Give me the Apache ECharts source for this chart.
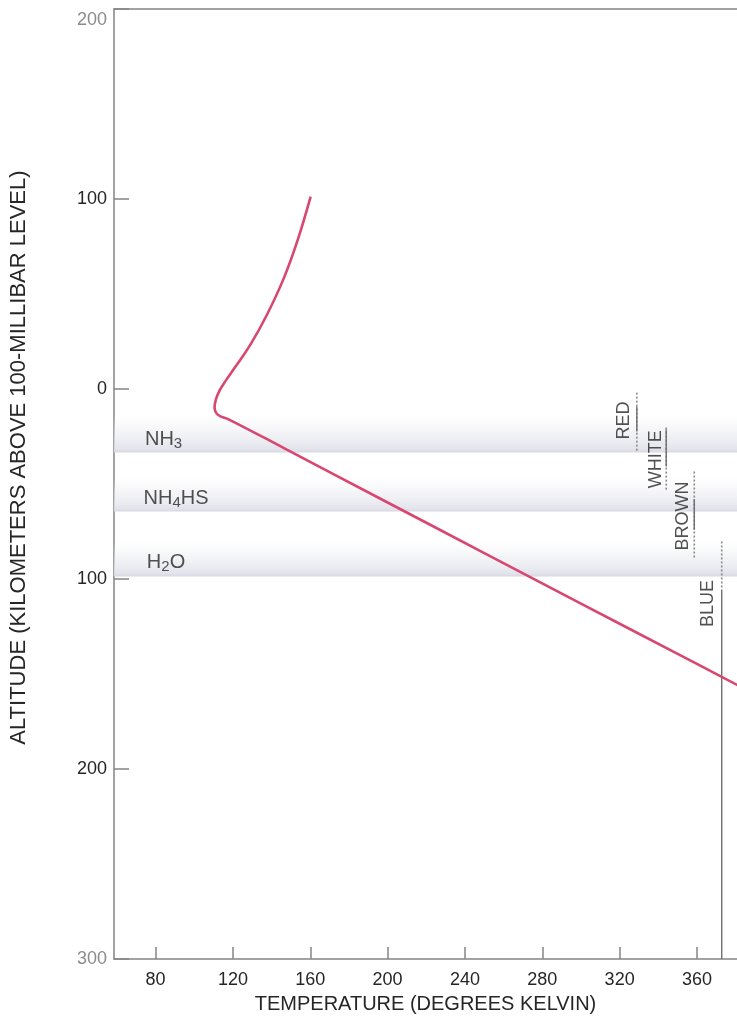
<!DOCTYPE html>
<html>
<head>
<meta charset="utf-8">
<script src="https://cdn.jsdelivr.net/npm/echarts@6/dist/echarts.min.js"></script>
<style>
  html, body { margin: 0; padding: 0; background: #fff; }
  #chart { width: 737px; height: 1019px; }
</style>
</head>
<body>
<div id="chart"></div>
<script>
// temperature profile (K) vs altitude (km above 100 mbar, negative = below)
var profileTemp = [160.2, 153.3, 146.4, 137.8, 129.2, 121, 116.2, 113.2, 111.2, 110.5, 111.5, 113.6, 117.5, 146.4, 200, 250, 300, 350, 386];
var profileAlt  = [101.3, 77.8, 58.5, 39.5, 23.6, 11.3, 4.3, -0.6, -5.4, -9.8, -12.8, -14.4, -15.8, -31.1, -59.7, -86.3, -112.9, -139.4, -158.5];

// cloud layers
var layerNames  = ['NH{s|3}', 'NH{s|4}HS', 'H{s|2}O'];
var layerTop    = [-13.5, -46.6, -80.2];
var layerBottom = [-33.4, -64.5, -98.6];
var layerLabelT = [74.5, 73.8, 75.5];
var layerLabelA = [-26.6, -57.6, -91.3];

// colour markers
var markerNames   = ['RED', 'WHITE', 'BROWN', 'BLUE'];
var markerTemp    = [328.9, 344.1, 358.6, 372.8];
var dottedTop     = [-1.9, -20.3, -43.4, -80.2];
var dottedBottom  = [-33.4, -53.4, -89.7, -105.5];
var solidTop      = [-9.3, -21.3, -58, -105.5];
var solidBottom   = [-22.4, -40.8, -74, -300];
var markerLabelT  = [322.4, 339.0, 352.9, 365.8];
var markerLabelA  = [-16.6, -36.9, -66.8, -112.8];

var xTicks = [80, 120, 160, 200, 240, 280, 320, 360];

var font = 'Liberation Sans, Arial, Helvetica, sans-serif';
var axisGray = '#858585';
var textCol = '#262626';

var myChart = echarts.init(document.getElementById('chart'));

var series = [];

// bands
series.push({
    type: 'line',
    data: [],
    z: 1,
    markArea: {
        silent: true,
        itemStyle: {
            color: new echarts.graphic.LinearGradient(0, 0, 0, 1, [
                { offset: 0, color: 'rgba(238,239,244,0)' },
                { offset: 0.5, color: 'rgba(234,235,241,0.6)' },
                { offset: 0.9, color: 'rgba(225,226,234,0.9)' },
                { offset: 1, color: 'rgba(214,215,226,1)' }
            ])
        },
        data: layerTop.map(function (t, i) {
            return [{ yAxis: t }, { yAxis: layerBottom[i] }];
        })
    }
});

// band labels
series.push({
    type: 'scatter',
    symbolSize: 0,
    z: 3,
    data: layerNames.map(function (n, i) { return { value: [layerLabelT[i], layerLabelA[i]], name: n }; }),
    label: {
        show: true,
        position: 'right',
        distance: 0,
        formatter: function (p) { return p.name; },
        color: textCol,
        fontFamily: font,
        fontSize: 20,
        rich: {
            s: { fontSize: 15, fontFamily: font, color: textCol, padding: [9, 0, 0, 0] }
        }
    }
});

// profile line
series.push({
    type: 'line',
    z: 5,
    smooth: 0.4,
    symbol: 'none',
    lineStyle: { color: '#d8476f', width: 2.6 },
    data: profileTemp.map(function (t, i) { return [t, profileAlt[i]]; })
});

// marker lines
markerNames.forEach(function (n, i) {
    series.push({
        type: 'line',
        symbol: 'none',
        z: 4,
        lineStyle: { color: '#8a8a8a', width: 1.6, type: [2, 2] },
        data: [[markerTemp[i], dottedTop[i]], [markerTemp[i], dottedBottom[i]]]
    });
    series.push({
        type: 'line',
        symbol: 'none',
        z: 4,
        lineStyle: { color: '#6e6e6e', width: 1.4 },
        data: [[markerTemp[i], solidTop[i]], [markerTemp[i], solidBottom[i]]]
    });
});

// marker labels
series.push({
    type: 'scatter',
    symbolSize: 0,
    z: 6,
    data: markerNames.map(function (n, i) { return { value: [markerLabelT[i], markerLabelA[i]], name: n }; }),
    label: {
        show: true,
        position: 'inside',
        rotate: 90,
        formatter: function (p) { return p.name; },
        color: textCol,
        fontFamily: font,
        fontSize: 18
    }
});

var option = {
    animation: false,
    backgroundColor: '#ffffff',
    grid: {
        left: 113,
        right: 0,
        top: 9,
        bottom: 59,
        show: false
    },
    xAxis: [{
        type: 'value',
        min: 58.5,
        max: 380.7,
        name: 'TEMPERATURE (DEGREES KELVIN)',
        nameLocation: 'middle',
        nameGap: 34,
        nameTextStyle: { fontSize: 20, color: textCol, fontFamily: font },
        axisLine: { onZero: false, lineStyle: { color: axisGray, width: 1.5 } },
        axisTick: { inside: true, length: 12, customValues: xTicks, lineStyle: { color: axisGray, width: 1.5 } },
        axisLabel: { customValues: xTicks, fontSize: 18, color: textCol, fontFamily: font, margin: 12 },
        splitLine: { show: false }
    }, {
        type: 'value',
        position: 'top',
        min: 58.5,
        max: 380.7,
        axisLine: { onZero: false, lineStyle: { color: axisGray, width: 1.5 } },
        axisTick: { show: false },
        axisLabel: { show: false },
        splitLine: { show: false }
    }],
    yAxis: {
        type: 'value',
        min: -300,
        max: 200,
        interval: 100,
        name: 'ALTITUDE (KILOMETERS ABOVE 100-MILLIBAR LEVEL)',
        nameLocation: 'middle',
        nameGap: 84,
        nameTextStyle: { fontSize: 22, color: textCol, fontFamily: font, padding: [0, 0, 0, 53] },
        axisLine: { onZero: false, lineStyle: { color: axisGray, width: 1.5 } },
        axisTick: { inside: true, length: 15, lineStyle: { color: axisGray, width: 1.5 } },
        axisLabel: {
            fontSize: 18,
            color: textCol,
            fontFamily: font,
            margin: 7,
            formatter: function (v) {
                var s = String(Math.abs(v));
                if (v === 200) return '{t|' + s + '}';
                if (v === -300) return '{l|' + s + '}';
                return s;
            },
            rich: {
                l: { fontSize: 18, color: '#8c8c8c', fontFamily: font },
                t: { fontSize: 18, color: '#8c8c8c', fontFamily: font, padding: [22, 0, 0, 0] }
            }
        },
        splitLine: { show: false }
    },
    series: series
};
myChart.setOption(option);
</script>
</body>
</html>
